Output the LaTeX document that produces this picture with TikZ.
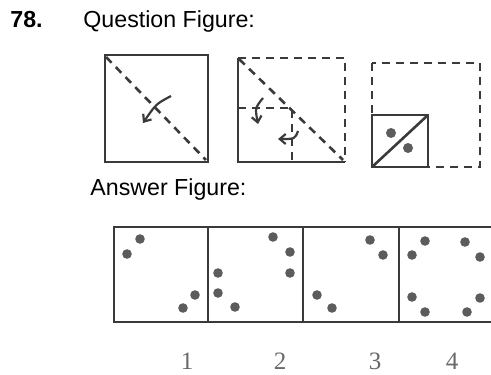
\documentclass[tikz,border=0pt]{standalone}
\usepackage{fontspec}
\setmainfont{Liberation Sans}
\newfontfamily\digitfont{Liberation Serif}
\usetikzlibrary{arrows.meta}
\definecolor{xink}{RGB}{58,58,58}
\definecolor{xdot}{RGB}{92,92,92}
\definecolor{xnum}{RGB}{105,105,105}

\begin{document}
\begin{tikzpicture}[x=0.5pt, y=-0.5pt,
  heading/.style={anchor=base west, inner sep=0pt, font=\fontsize{11.6}{14}\selectfont},
  fold/.style={draw=xink, line width=1.3pt},
  crease/.style={draw=xink, line width=1.3pt, dash pattern=on 4pt off 3pt},
  turn/.style={-{Straight Barb[length=3pt,width=5pt]}, draw=xink, line width=1.1pt},
  spot/.style={fill=xdot},
  num/.style={font=\digitfont\fontsize{12.5}{14}\selectfont, text=xnum}
]
  \useasboundingbox (0,0) rectangle (491,374);

  % headings
  \node[heading, font=\fontsize{11.6}{14}\selectfont\bfseries] (qnum) at (10,28) {78.};
  \node[heading] (qhead) at (83,28) {Question Figure:};
  \node[heading] (ahead) at (90,195) {Answer Figure:};

  % Question figure 1
  \draw[fold] (105,55) rectangle (208,162);
  \draw[crease] (106,57) -- (206,160);
  \draw[turn] (171,96) .. controls (156,104) .. (143,123);

  % Question figure 2
  \draw[fold] (238,58) -- (238,162) -- (345,162);
  \draw[crease] (238,58) -- (345,58) -- (345,162);
  \draw[crease] (239,59) -- (343,160);
  \draw[crease] (238,108) -- (292,108) -- (292,162);
  \draw[turn] (263,98) .. controls (255,108) .. (258,124);
  \draw[turn] (298,131) .. controls (295,139) .. (278,139);

  % Question figure 3
  \draw[crease] (372,63) rectangle (480,167);
  \draw[fold, fill=white] (372,115) rectangle (428,167);
  \draw[fold] (372,167) -- (428,115);
  \fill[spot] (391,133) circle (5) (408,148) circle (5);

  % Answer figure
  \draw[draw=xink, line width=1.1pt] (491,227) -- (114,227) -- (114,322) -- (491,322);
  \foreach \x in {208,303,399}
    \draw[draw=xink, line width=1.1pt] (\x,227) -- (\x,322);
  \foreach \p in {(140,239),(127,254),(195,295),(183,308),
                  (273,237),(290,252),(290,273),(218,273),(218,293),(235,307),
                  (370,240),(383,255),(317,295),(332,308),
                  (425,241),(412,255),(465,242),(480,257),
                  (412,297),(425,312),(467,312),(480,298)}
    \fill[spot] \p circle (4.8);
  \foreach \n/\x in {1/187,2/280,3/375,4/452}
    \node[num] (opt\n) at (\x,361) {\n};
\end{tikzpicture}
\end{document}
